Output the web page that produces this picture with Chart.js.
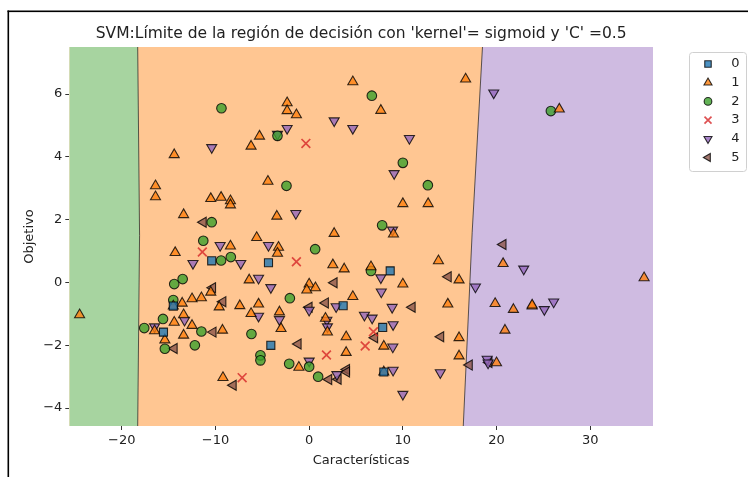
<!DOCTYPE html>
<html>
<head>
<meta charset="utf-8">
<script src="https://cdn.jsdelivr.net/npm/chart.js@4"></script>
<style>
  html, body { margin: 0; padding: 0; background: #fff; }
  #c { display: block; }
</style>
</head>
<body>
<canvas id="c" width="748" height="477"></canvas>
<script>
// ---------------- data ----------------
const titleText = "SVM:Límite de la región de decisión con 'kernel'= sigmoid y 'C' =0.5";
const xLabel = "Características";
const yLabel = "Objetivo";
const classNames = ["0", "1", "2", "3", "4", "5"];
const xTicks = [-20, -10, 0, 10, 20, 30];
const yTicks = [-4, -2, 0, 2, 4, 6];
const xRange = [-25.6, 36.7];
const yRange = [-4.57, 7.5];

// decision boundaries (x, y) from top to bottom
const greenEdge = [[-18.3, 7.5], [-18.1, 1.5], [-18.3, -4.57]];
const purpleEdge = [[18.5, 7.5], [17.4, 1.6], [16.45, -4.57]];

const class0 = [[-10.4,0.69],[-15.55,-1.58],[-14.5,-0.75],[-4.34,0.63],[-4.09,-2.0],[3.63,-0.74],[8.65,0.37],[7.85,-1.43],[7.97,-2.85]];
const class1 = [[-6.2,4.34],[-5.3,4.66],[-14.4,4.07],[-16.4,3.08],[-16.4,2.73],[-10.5,2.67],[-9.4,2.71],[-8.4,2.6],[-8.4,2.47],
  [-13.4,2.16],[-5.6,1.43],[4.66,6.39],[7.65,5.48],[-2.35,5.72],[-2.35,5.47],[-1.36,5.34],[-4.4,3.22],[10.0,2.51],[12.7,2.51],
  [-3.45,2.11],[9.0,1.54],[2.67,1.56],[16.7,6.48],[26.7,5.52],[-24.5,-1.03],[-8.4,1.16],[-14.3,0.95],[-6.4,0.08],[-10.5,-0.31],
  [-12.5,-0.52],[-11.5,-0.49],[-9.6,-0.78],[-7.4,-0.74],[-5.4,-0.69],[-6.2,-0.99],[-14.5,-0.75],[-13.55,-0.66],[-13.4,-1.03],
  [-14.4,-1.27],[-12.5,-1.37],[-16.5,-1.54],[-9.25,-1.52],[-13.4,-1.68],[-15.4,-1.83],[-9.2,-3.03],[-3.27,1.12],[-3.38,0.93],
  [2.53,0.56],[3.74,0.43],[6.6,0.5],[13.8,0.69],[10.0,-0.05],[0.0,-0.05],[-0.25,-0.24],[0.67,-0.17],[4.66,-0.45],[-3.17,-0.94],
  [-3.0,-1.47],[1.74,-1.14],[1.95,-1.58],[14.8,-0.69],[3.95,-1.73],[7.97,-2.03],[3.95,-2.23],[-1.1,-2.7],[7.97,-2.85],
  [20.7,0.6],[35.75,0.15],[16.0,0.08],[19.85,-0.67],[21.8,-0.86],[23.8,-0.75],[23.8,-0.72],[20.9,-1.52],[16.0,-1.76],[16.0,-2.34],[20.0,-2.56]];
const class2 = [[-9.36,5.55],[-10.4,1.92],[-11.3,1.33],[6.69,5.95],[-3.38,4.67],[10.0,3.81],[12.67,3.1],[-2.42,3.08],[7.79,1.82],
  [25.8,5.46],[-9.4,0.7],[-8.36,0.81],[-14.4,-0.05],[-13.5,0.11],[-14.5,-0.56],[-15.6,-1.16],[-17.6,-1.45],[-11.5,-1.56],
  [-15.4,-2.11],[-12.2,-2.0],[-6.16,-1.64],[-5.2,-2.32],[-5.2,-2.48],[0.64,1.06],[6.6,0.37],[-2.06,-0.5],[-2.13,-2.59],[0.0,-2.68],[0.96,-3.0]];
const class3 = [[-0.35,4.43],[-11.4,0.97],[-1.36,0.66],[-7.15,-3.03],[6.86,-1.57],[5.98,-2.02],[1.85,-2.31]];
const class4 = [[-10.4,4.3],[2.67,5.15],[4.66,4.91],[-2.35,4.91],[-3.38,4.72],[10.7,4.59],[9.07,3.47],[-1.42,2.2],[8.9,1.67],
  [19.7,6.04],[-9.5,1.18],[-12.4,0.61],[-7.3,0.61],[-5.4,0.14],[-5.4,-1.07],[-13.3,-1.2],[-16.5,-1.41],[-4.34,1.18],[7.65,0.15],
  [-4.09,-0.16],[7.7,-0.3],[2.88,-0.77],[0.0,-0.88],[-3.17,-1.18],[1.89,-1.2],[1.95,-1.41],[5.9,-1.04],[6.72,-1.13],[8.86,-0.79],
  [8.96,-1.34],[8.93,-2.05],[0.0,-2.5],[2.96,-2.93],[8.96,-2.79],[14.0,-2.87],[10.0,-3.56],[22.9,0.43],[17.75,-0.14],[25.1,-0.86],
  [26.1,-0.62],[19.0,-2.44],[19.1,-2.56]];
const class5 = [[-11.3,1.92],[-10.3,-0.17],[-9.2,-0.61],[-10.25,-1.58],[-14.4,-2.1],[-8.1,-3.27],[2.67,-0.01],[1.74,-0.65],
  [0.0,-0.79],[11.0,-0.79],[14.85,0.18],[7.0,-1.76],[14.05,-1.73],[-1.17,-1.96],[2.1,-3.09],[3.1,-3.08],[4.0,-2.77],[4.0,-2.85],
  [20.7,1.21],[17.1,-2.63],[19.2,-2.55]];

// ---------------- styles ----------------
const FONT = "'DejaVu Sans', sans-serif";
const styles = [
  { pointStyle: 'rect',     rotation: 0,   radius: 5.7, bg: 'rgba(31,119,180,0.8)',  border: 'rgba(0,0,0,0.8)', bw: 1.1 },
  { pointStyle: 'triangle', rotation: 0,   radius: 5.8, bg: 'rgba(255,127,14,0.8)',  border: 'rgba(0,0,0,0.8)', bw: 1.1 },
  { pointStyle: 'circle',   rotation: 0,   radius: 4.8, bg: 'rgba(60,160,44,0.8)',   border: 'rgba(0,0,0,0.8)', bw: 1.1 },
  { pointStyle: 'crossRot', rotation: 0,   radius: 6.2, bg: 'rgba(214,39,40,0.8)',   border: 'rgba(214,39,40,0.8)', bw: 1.7 },
  { pointStyle: 'triangle', rotation: 180, radius: 5.8, bg: 'rgba(148,103,189,0.8)', border: 'rgba(0,0,0,0.8)', bw: 1.1 },
  { pointStyle: 'triangle', rotation: 270, radius: 5.8, bg: 'rgba(140,86,75,0.8)',   border: 'rgba(0,0,0,0.8)', bw: 1.1 }
];
const regionColors = { green: 'rgb(167,212,160)', orange: 'rgb(255,198,146)', purple: 'rgb(207,187,225)' };

const allClasses = [class0, class1, class2, class3, class4, class5];
const datasets = allClasses.map((pts, i) => ({
  label: classNames[i],
  data: pts.map(p => ({ x: p[0], y: p[1] })),
  pointStyle: styles[i].pointStyle,
  rotation: styles[i].rotation,
  pointRadius: styles[i].radius,
  pointHoverRadius: styles[i].radius,
  backgroundColor: styles[i].bg,
  borderColor: styles[i].border,
  borderWidth: styles[i].bw,
  showLine: false
}));

const fmt = v => (v < 0 ? '\u2212' : '') + Math.abs(v);

const regionPlugin = {
  id: 'regions',
  beforeDatasetsDraw(chart) {
    const { ctx, chartArea: a, scales: { x, y } } = chart;
    ctx.save();
    ctx.beginPath(); ctx.rect(a.left, a.top, a.right - a.left, a.bottom - a.top); ctx.clip();
    ctx.fillStyle = regionColors.orange;
    ctx.fillRect(a.left, a.top, a.right - a.left, a.bottom - a.top);
    const P = pt => [x.getPixelForValue(pt[0]), y.getPixelForValue(pt[1])];
    ctx.beginPath();
    ctx.moveTo(...P([xRange[0], yRange[1]]));
    greenEdge.forEach(pt => ctx.lineTo(...P(pt)));
    ctx.lineTo(...P([xRange[0], yRange[0]]));
    ctx.closePath();
    ctx.fillStyle = regionColors.green; ctx.fill();
    ctx.beginPath();
    ctx.moveTo(...P([xRange[1], yRange[1]]));
    purpleEdge.forEach(pt => ctx.lineTo(...P(pt)));
    ctx.lineTo(...P([xRange[1], yRange[0]]));
    ctx.closePath();
    ctx.fillStyle = regionColors.purple; ctx.fill();
    ctx.strokeStyle = 'rgba(40,40,40,0.75)'; ctx.lineWidth = 1;
    [greenEdge, purpleEdge].forEach(edge => {
      ctx.beginPath();
      edge.forEach((pt, k) => k ? ctx.lineTo(...P(pt)) : ctx.moveTo(...P(pt)));
      ctx.stroke();
    });
    ctx.restore();
  }
};

const decorPlugin = {
  id: 'decor',
  afterDraw(chart) {
    const { ctx, chartArea: a } = chart;
    ctx.save();
    ctx.fillStyle = '#000';
    ctx.fillRect(7.5, 10.5, 1.6, 477);
    ctx.fillRect(7.5, 10.5, 748, 1.6);
    ctx.fillStyle = '#222';
    ctx.textAlign = 'center'; ctx.textBaseline = 'middle';
    ctx.font = '15.5px ' + FONT;
    ctx.fillText(titleText, (a.left + a.right) / 2, 34);
    ctx.font = '13px ' + FONT;
    ctx.fillText(xLabel, (a.left + a.right) / 2, 461);
    ctx.save();
    ctx.translate(30, (a.top + a.bottom) / 2);
    ctx.rotate(-Math.PI / 2);
    ctx.fillText(yLabel, 0, 0);
    ctx.restore();
    const bx = 689.5, by = 52.5, bw = 57, bh = 119, r = 3;
    ctx.beginPath();
    ctx.moveTo(bx + r, by);
    ctx.arcTo(bx + bw, by, bx + bw, by + bh, r);
    ctx.arcTo(bx + bw, by + bh, bx, by + bh, r);
    ctx.arcTo(bx, by + bh, bx, by, r);
    ctx.arcTo(bx, by, bx + bw, by, r);
    ctx.closePath();
    ctx.fillStyle = 'rgba(255,255,255,0.8)'; ctx.fill();
    ctx.strokeStyle = '#d0d0d0'; ctx.lineWidth = 1; ctx.stroke();
    classNames.forEach((name, i) => {
      const cy = 64 + i * 18.7;
      const s = styles[i];
      ctx.fillStyle = s.bg; ctx.strokeStyle = s.border; ctx.lineWidth = s.bw;
      Chart.helpers.drawPoint(ctx, { pointStyle: s.pointStyle, rotation: s.rotation, radius: s.radius * 0.8, borderWidth: s.bw }, 708, cy);
      ctx.fillStyle = '#222';
      ctx.font = '13px ' + FONT;
      ctx.textAlign = 'center'; ctx.textBaseline = 'middle';
      ctx.fillText(name, 735.5, cy);
    });
    ctx.restore();
  }
};

const axisCommon = {
  type: 'linear',
  grid: { display: true, drawOnChartArea: false, drawTicks: true, tickLength: 4, color: '#333', lineWidth: 1 },
  border: { display: false },
  ticks: { font: { family: FONT, size: 13 }, color: '#222', callback: fmt, padding: 3 }
};

new Chart(document.getElementById('c'), {
  type: 'scatter',
  data: { datasets },
  options: {
    responsive: false,
    animation: false,
    devicePixelRatio: 1,
    layout: { padding: { left: 0, top: 47, right: 95, bottom: 0 } },
    plugins: { legend: { display: false }, tooltip: { enabled: false }, title: { display: false } },
    scales: {
      x: Object.assign({}, axisCommon, {
        min: xRange[0], max: xRange[1],
        afterBuildTicks: s => { s.ticks = xTicks.map(v => ({ value: v })); },
        afterFit: s => { s.height = 51; }
      }),
      y: Object.assign({}, axisCommon, {
        min: yRange[0], max: yRange[1],
        afterBuildTicks: s => { s.ticks = yTicks.map(v => ({ value: v })); },
        afterFit: s => { s.width = 69.3; }
      })
    }
  },
  plugins: [regionPlugin, decorPlugin]
});
</script>
</body>
</html>
